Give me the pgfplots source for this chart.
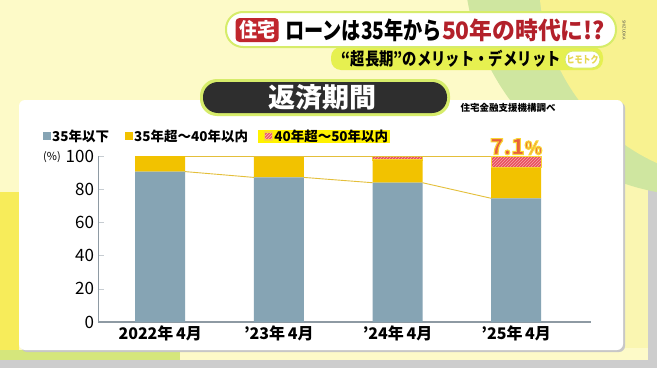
\documentclass[border=0pt]{standalone}
\usepackage{pgfplots}
\pgfplotsset{compat=1.18}
\usepackage{graphicx}
\usepackage{fontspec}
\setmainfont{Noto Sans CJK JP}
\usetikzlibrary{patterns}
\definecolor{bgY}{HTML}{FDFAC8}
\definecolor{grayBd}{HTML}{CDCDCD}
\definecolor{greenC}{HTML}{CFE6A0}
\definecolor{brightY}{HTML}{F7EC5A}
\definecolor{softY}{HTML}{F8F290}
\definecolor{limeP}{HTML}{D5E67C}
\definecolor{limeG}{HTML}{D6EC6A}
\definecolor{limeBand}{HTML}{E6F050}
\definecolor{titleRed}{HTML}{C0262D}
\definecolor{titleRed2}{HTML}{B3202A}
\definecolor{darkPill}{HTML}{2E2E2E}
\definecolor{cBlue}{HTML}{86A4B4}
\definecolor{cYellow}{HTML}{F2C200}
\definecolor{cRed}{HTML}{E8505E}
\definecolor{cPink}{HTML}{F7A7AE}
\definecolor{cOut}{HTML}{F9D535}
\definecolor{cLine}{HTML}{E4BF3A}
\definecolor{axisGray}{HTML}{8E9AA3}
\definecolor{hl}{HTML}{FFF200}
\definecolor{cOrange}{HTML}{E8603C}
\definecolor{logoY}{HTML}{E6D650}
\begin{document}
\begin{tikzpicture}[x=1pt,y=1pt]
\path[use as bounding box] (0,0) rectangle (657,368);
\clip (0,0) rectangle (657,368);
% background
\fill[grayBd] (0,0) rectangle (657,368);
\fill[bgY] (0,8) rectangle (648,368);
\fill[softY!70] (600,20) rectangle (648,280);
\fill[greenC] (700,408) circle (236);
\fill[softY] (740,388) circle (201);
\fill[brightY] (0,13) rectangle (19,176);
\fill[limeP] (0,8) rectangle (180,18);
% panel
\fill[black!22, rounded corners=6] (21,16) rectangle (625,266);
\fill[white, rounded corners=6] (19,18) rectangle (623,268);
% subtitle band
\fill[limeBand, rounded corners=10] (331,298) rectangle (603,321);
\fill[white, draw=limeG, line width=1pt, rounded corners=8] (565,300) rectangle (600,317);
\node[text=logoY, font=\bfseries\fontsize{10}{10}\selectfont] at (582.5,308.5) {\scalebox{0.8}[1]{ヒモトク}};
\node[anchor=west, inner sep=0, font=\bfseries\fontsize{17.5}{17.5}\selectfont] at (341.5,309.5) {\scalebox{0.82}[1]{“超長期”のメリット・デメリット}};
% title pill
\fill[white, draw=limeG, line width=2pt, rounded corners=17] (226,321) rectangle (616,356);
\fill[titleRed, rounded corners=4] (235.5,326) rectangle (278.7,350);
\node[text=white, font=\bfseries\fontsize{20}{20}\selectfont] at (257,338) {\scalebox{0.9}[1]{住宅}};
\node[anchor=west, inner sep=0, font=\bfseries\fontsize{24}{24}\selectfont] at (285,338) {\scalebox{0.8}[1]{ローンは35年から}\scalebox{0.95}[1]{\textcolor{titleRed2}{50年の時代に!?}}};
\node[rotate=-90, font=\fontsize{4}{4}\selectfont, text=black!70] at (624,338) {SHIZUOKA};
% dark pill
\fill[limeG, rounded corners=17] (200,252) rectangle (450,289);
\fill[darkPill, rounded corners=15] (203,255) rectangle (447,286);
\node[text=white, font=\bfseries\fontsize{27}{27}\selectfont] at (322,270.5) {返済期間};
\node[font=\bfseries\fontsize{9.5}{9.5}\selectfont] at (508,260) {住宅金融支援機構調べ};
% legend highlight
\fill[hl] (258,225) rectangle (390,238);
\node[font=\fontsize{11}{11}\selectfont] at (52,211) {(\%)};
\coordinate (A) at (98.5,46);
\begin{axis}[at={(A)}, anchor=south west, scale only axis,
  width=492.5pt, height=166pt,
  xmin=-0.52, xmax=3.63, ymin=0, ymax=100,
  ybar stacked, bar width=50pt,
  axis x line*=bottom, axis y line*=left,
  axis line style={draw=axisGray, line width=1.2pt},
  xtick={0,1,2,3},
  xticklabels={2022年\,4月, ’23年\,4月, ’24年\,4月, ’25年\,4月},
  x tick style={draw=none},
  ytick={0,20,40,60,80,100},
  y tick style={draw=axisGray!50, line width=0.6pt},
  tick align=inside, major tick length=5pt,
  /pgf/number format/assume math mode=true,
  y tick label style={font=\fontsize{17}{17}\selectfont, xshift=-1pt},
  x tick label style={font=\bfseries\fontsize{16}{16}\selectfont},
  legend style={at={(-0.1127,1.1205)}, anchor=west, draw=none, fill=none,
    inner sep=0pt, legend columns=-1,
    font=\bfseries\fontsize{13.5}{13.5}\selectfont,
    nodes={inner sep=1pt},
    /tikz/every even column/.append style={column sep=15pt}},
]
\addplot[fill=cBlue, draw=none,
  legend image code/.code={\fill[cBlue] (0pt,-4pt) rectangle (8pt,4pt);}]
  coordinates {(0,90.6) (1,87.1) (2,83.9) (3,74.5)};
\addlegendentry{35年以下}
\addplot[fill=cYellow, draw=none,
  legend image code/.code={\fill[cYellow] (0pt,-4pt) rectangle (8pt,4pt);}]
  coordinates {(0,9.4) (1,12.9) (2,13.7) (3,18.4)};
\addlegendentry{35年超～40年以内}
\addplot[fill=cRed, draw=cOut, line width=1.3pt,
  postaction={pattern=north east lines, pattern color=cPink},
  legend image code/.code={\fill[cRed] (0pt,-4pt) rectangle (8pt,4pt);
    \fill[pattern=north east lines, pattern color=cPink] (0pt,-4pt) rectangle (8pt,4pt);}]
  coordinates {(0,0) (1,0) (2,2.4) (3,7.1)};
\addlegendentry{40年超～50年以内}
\end{axis}
\begin{axis}[at={(A)}, anchor=south west, scale only axis,
  width=492.5pt, height=166pt,
  xmin=-0.52, xmax=3.63, ymin=0, ymax=100,
  axis lines=none, clip=false]
\addplot[cLine, line width=0.9pt] coordinates {(0.21,90.6) (0.79,87.1)};
\addplot[cLine, line width=0.9pt] coordinates {(1.21,87.1) (1.79,83.9)};
\addplot[cLine, line width=0.9pt] coordinates {(2.21,83.9) (2.79,74.5)};
\addplot[cLine, line width=0.9pt] coordinates {(0.21,100) (2.79,100)};
\coordinate (lab) at (axis cs:3,105.6);
\end{axis}
\node[text=cOrange, font=\bfseries\fontsize{22}{22}\selectfont] at (lab) {\special{pdf:literal direct 0.976 0.835 0.208 RG 1.1 w 2 Tr}7.1{\fontsize{18}{18}\selectfont\%}\special{pdf:literal direct 0 Tr}};
\end{tikzpicture}
\end{document}
